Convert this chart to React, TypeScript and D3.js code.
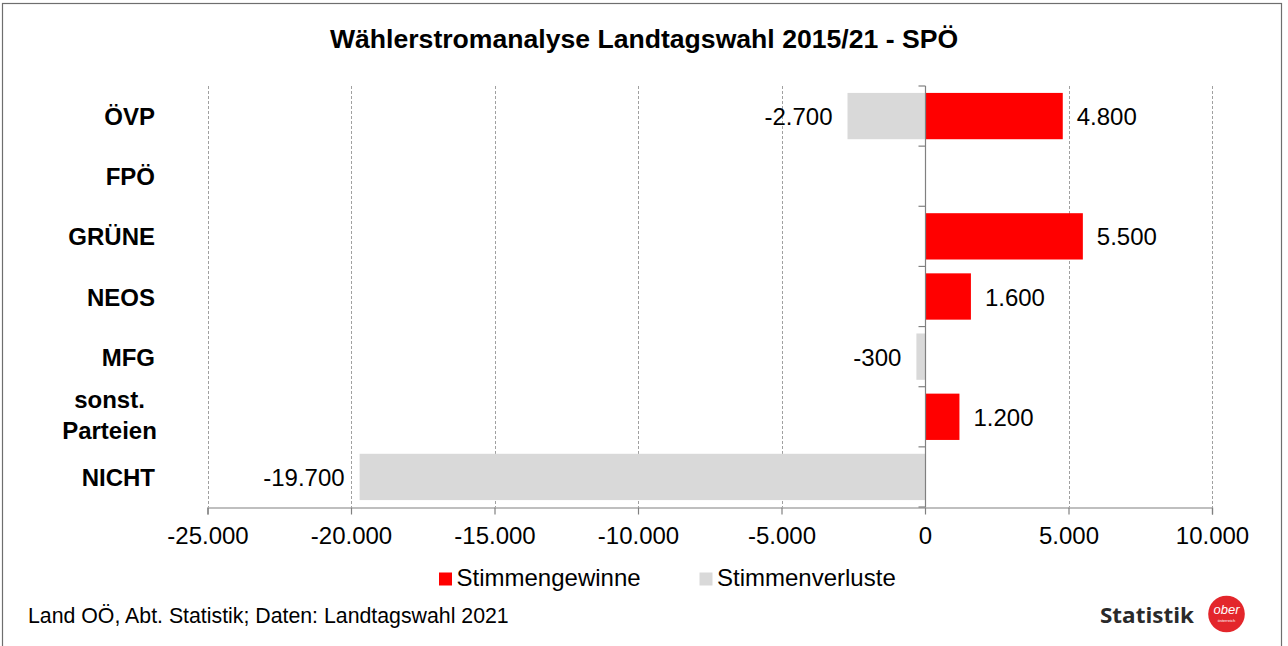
import React, { useEffect, useRef } from "react";
import * as d3 from "d3";

const categories = ["ÖVP", "FPÖ", "GRÜNE", "NEOS", "MFG", "sonst. Parteien", "NICHT"];
const gains = [4800, 0, 5500, 1600, 0, 1200, 0];
const losses = [-2700, 0, 0, 0, -300, 0, -19700];
const xTicks = [-25000, -20000, -15000, -10000, -5000, 0, 5000, 10000];
const seriesNames = ["Stimmengewinne", "Stimmenverluste"];

const W = 1288;
const H = 646;
const FONT = "'Liberation Sans', Arial, sans-serif";

const fmt = (v: number) => {
  const s = d3.format(",")(Math.abs(v)).replace(/,/g, ".");
  return (v < 0 ? "-" : "") + s;
};

export default function App() {
  const ref = useRef<SVGSVGElement>(null);

  useEffect(() => {
    document.body.style.margin = "0";
    const svg = d3.select(ref.current);
    svg.selectAll("*").remove();

    const x = d3.scaleLinear().domain([-25000, 10000]).range([207.5, 1212]);
    const y = d3.scaleBand().domain(categories).range([86, 507]).paddingInner(0.23).paddingOuter(0.115);
    const step = y.step();

    // frame
    svg.append("rect").attr("x", 2.5).attr("y", 3.5).attr("width", 1279).attr("height", H)
      .attr("fill", "#fff").attr("stroke", "#6e6e6e").attr("stroke-width", 1.2);

    // title
    svg.append("text").attr("x", 644).attr("y", 48).attr("text-anchor", "middle")
      .attr("font-family", FONT).attr("font-weight", "bold").attr("font-size", 26.6)
      .text("Wählerstromanalyse Landtagswahl 2015/21 - SPÖ");

    // gridlines
    svg.append("g").selectAll("line").data(xTicks.filter(d => d !== 0)).enter().append("line")
      .attr("x1", d => Math.round(x(d)) + 0.5).attr("x2", d => Math.round(x(d)) + 0.5)
      .attr("y1", 86).attr("y2", 507)
      .attr("stroke", "#a0a0a0").attr("stroke-dasharray", "3,2").attr("stroke-width", 1);

    // bars
    const rows = categories.map((c, i) => ({ c, g: gains[i], l: losses[i] }));
    svg.append("g").selectAll("rect").data(rows.filter(r => r.l < 0)).enter().append("rect")
      .attr("x", r => x(r.l)).attr("width", r => x(0) - x(r.l))
      .attr("y", r => y(r.c)!).attr("height", y.bandwidth()).attr("fill", "#d9d9d9");
    svg.append("g").selectAll("rect").data(rows.filter(r => r.g > 0)).enter().append("rect")
      .attr("x", x(0)).attr("width", r => x(r.g) - x(0))
      .attr("y", r => y(r.c)!).attr("height", y.bandwidth()).attr("fill", "#ff0000");

    // value labels
    svg.append("g").selectAll("text").data(rows.filter(r => r.g > 0)).enter().append("text")
      .attr("x", r => x(r.g) + 14).attr("y", r => y(r.c)! + y.bandwidth() / 2 + 9)
      .attr("font-family", FONT).attr("font-size", 24).text(r => fmt(r.g));
    svg.append("g").selectAll("text").data(rows.filter(r => r.l < 0)).enter().append("text")
      .attr("x", r => x(r.l) - 15).attr("y", r => y(r.c)! + y.bandwidth() / 2 + 9)
      .attr("text-anchor", "end")
      .attr("font-family", FONT).attr("font-size", 24).text(r => fmt(r.l));

    // zero axis with ticks
    const x0 = Math.round(x(0)) + 0.5;
    svg.append("line").attr("x1", x0).attr("x2", x0).attr("y1", 86).attr("y2", 507)
      .attr("stroke", "#808080").attr("stroke-width", 1.2);
    svg.append("g").selectAll("line").data(d3.range(categories.length + 1)).enter().append("line")
      .attr("x1", x0 - 7).attr("x2", x0).attr("y1", i => 86 + i * step).attr("y2", i => 86 + i * step)
      .attr("stroke", "#808080").attr("stroke-width", 1.2);

    // bottom axis
    const axis = svg.append("g").attr("transform", "translate(0,507.5)")
      .call(d3.axisBottom(x).tickValues(xTicks).tickSize(7).tickPadding(12).tickFormat(d => fmt(+d)));
    axis.select(".domain").attr("stroke", "#808080").attr("stroke-width", 1.2);
    axis.selectAll(".tick line").attr("stroke", "#808080").attr("stroke-width", 1.2);
    axis.selectAll(".tick text").attr("font-family", FONT).attr("font-size", 24).attr("fill", "#000");

    // category labels
    rows.forEach(r => {
      const cy = y(r.c)! + y.bandwidth() / 2;
      const parts = r.c === "sonst. Parteien" ? ["sonst.", "Parteien"] : [r.c];
      const t = svg.append("text").attr("font-family", FONT).attr("font-weight", "bold").attr("font-size", 24);
      if (parts.length === 1) {
        t.attr("x", 155).attr("y", cy + 9).attr("text-anchor", "end").text(parts[0]);
      } else {
        parts.forEach((p, k) => {
          t.append("tspan").attr("x", 109.5).attr("y", cy - 8.5 + k * 31).attr("text-anchor", "middle").text(p);
        });
      }
    });

    // legend
    const legend = [
      { name: seriesNames[0], color: "#ff0000", x: 439 },
      { name: seriesNames[1], color: "#d9d9d9", x: 699.5 },
    ];
    legend.forEach(l => {
      svg.append("rect").attr("x", l.x).attr("y", 572.5).attr("width", 13).attr("height", 13).attr("fill", l.color);
      svg.append("text").attr("x", l.x + 17.5).attr("y", 586).attr("font-family", FONT).attr("font-size", 24).text(l.name);
    });

    // source
    svg.append("text").attr("x", 28).attr("y", 623).attr("font-family", FONT).attr("font-size", 21.3)
      .text("Land OÖ, Abt. Statistik; Daten: Landtagswahl 2021");

    // logo
    svg.append("text").attr("x", 1100).attr("y", 622.5)
      .attr("font-family", "'Open Sans', Lato, sans-serif").attr("font-weight", "bold").attr("font-size", 21)
      .attr("textLength", 94).attr("lengthAdjust", "spacingAndGlyphs")
      .attr("fill", "#2a2a2a").text("Statistik");
    svg.append("circle").attr("cx", 1226.5).attr("cy", 614).attr("r", 18.3).attr("fill", "#e3262b");
    svg.append("text").attr("x", 1226.5).attr("y", 614).attr("text-anchor", "middle")
      .attr("font-family", FONT).attr("font-style", "italic").attr("font-size", 13).attr("fill", "#fff").text("ober");
    svg.append("text").attr("x", 1226.5).attr("y", 622).attr("text-anchor", "middle")
      .attr("font-family", FONT).attr("font-size", 4).attr("fill", "#fff").text("österreich");
  }, []);

  return <svg ref={ref} width={W} height={H} style={{ display: "block" }}></svg>;
}
